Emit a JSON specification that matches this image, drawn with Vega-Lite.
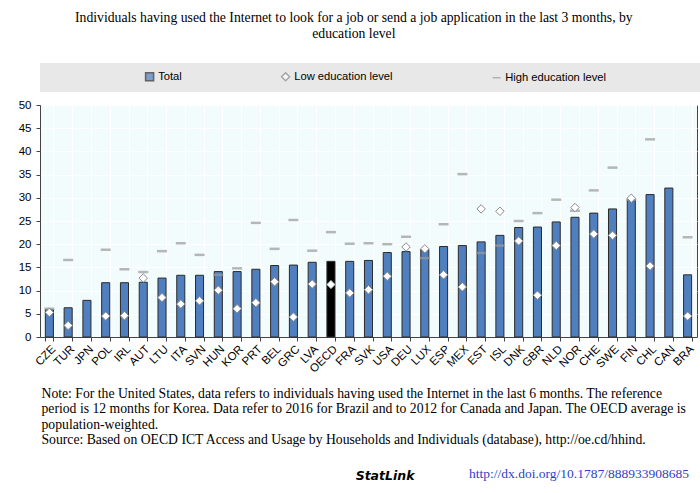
{
  "$schema": "https://vega.github.io/schema/vega-lite/v6.json",
  "padding": {"left": 17, "top": 11, "right": 0, "bottom": 0},
  "background": "white",
  "title": {
    "text": ["Individuals having used the Internet to look for a job or send a job application in the last 3 months, by", "education level"],
    "font": "Liberation Serif", "fontSize": 13.7, "fontWeight": "normal", "color": "#000000",
    "lineHeight": 16, "anchor": "middle", "offset": 22, "dx": -6
  },
  "data": {"values": [
    {"country": "CZE", "series": "Total", "value": 5.9}, {"country": "CZE", "series": "Low education level", "value": 5.3}, {"country": "CZE", "series": "High education level", "value": 6.1},
    {"country": "TUR", "series": "Total", "value": 6.3}, {"country": "TUR", "series": "Low education level", "value": 2.5}, {"country": "TUR", "series": "High education level", "value": 16.6},
    {"country": "JPN", "series": "Total", "value": 7.9},
    {"country": "POL", "series": "Total", "value": 11.7}, {"country": "POL", "series": "Low education level", "value": 4.5}, {"country": "POL", "series": "High education level", "value": 18.8},
    {"country": "IRL", "series": "Total", "value": 11.7}, {"country": "IRL", "series": "Low education level", "value": 4.6}, {"country": "IRL", "series": "High education level", "value": 14.6},
    {"country": "AUT", "series": "Total", "value": 11.8}, {"country": "AUT", "series": "Low education level", "value": 12.7}, {"country": "AUT", "series": "High education level", "value": 14.0},
    {"country": "LTU", "series": "Total", "value": 12.7}, {"country": "LTU", "series": "Low education level", "value": 8.5}, {"country": "LTU", "series": "High education level", "value": 18.5},
    {"country": "ITA", "series": "Total", "value": 13.3}, {"country": "ITA", "series": "Low education level", "value": 7.1}, {"country": "ITA", "series": "High education level", "value": 20.2},
    {"country": "SVN", "series": "Total", "value": 13.3}, {"country": "SVN", "series": "Low education level", "value": 7.8}, {"country": "SVN", "series": "High education level", "value": 17.7},
    {"country": "HUN", "series": "Total", "value": 14.1}, {"country": "HUN", "series": "Low education level", "value": 10.1}, {"country": "HUN", "series": "High education level", "value": 13.4},
    {"country": "KOR", "series": "Total", "value": 14.1}, {"country": "KOR", "series": "Low education level", "value": 6.1}, {"country": "KOR", "series": "High education level", "value": 14.8},
    {"country": "PRT", "series": "Total", "value": 14.6}, {"country": "PRT", "series": "Low education level", "value": 7.4}, {"country": "PRT", "series": "High education level", "value": 24.6},
    {"country": "BEL", "series": "Total", "value": 15.4}, {"country": "BEL", "series": "Low education level", "value": 11.9}, {"country": "BEL", "series": "High education level", "value": 19.0},
    {"country": "GRC", "series": "Total", "value": 15.5}, {"country": "GRC", "series": "Low education level", "value": 4.3}, {"country": "GRC", "series": "High education level", "value": 25.2},
    {"country": "LVA", "series": "Total", "value": 16.1}, {"country": "LVA", "series": "Low education level", "value": 11.4}, {"country": "LVA", "series": "High education level", "value": 18.6},
    {"country": "OECD", "series": "Total", "value": 16.3}, {"country": "OECD", "series": "Low education level", "value": 11.3}, {"country": "OECD", "series": "High education level", "value": 22.6},
    {"country": "FRA", "series": "Total", "value": 16.3}, {"country": "FRA", "series": "Low education level", "value": 9.5}, {"country": "FRA", "series": "High education level", "value": 20.1},
    {"country": "SVK", "series": "Total", "value": 16.5}, {"country": "SVK", "series": "Low education level", "value": 10.2}, {"country": "SVK", "series": "High education level", "value": 20.2},
    {"country": "USA", "series": "Total", "value": 18.2}, {"country": "USA", "series": "Low education level", "value": 13.1}, {"country": "USA", "series": "High education level", "value": 20.0},
    {"country": "DEU", "series": "Total", "value": 18.4}, {"country": "DEU", "series": "Low education level", "value": 19.4}, {"country": "DEU", "series": "High education level", "value": 21.6},
    {"country": "LUX", "series": "Total", "value": 18.9}, {"country": "LUX", "series": "Low education level", "value": 19.0}, {"country": "LUX", "series": "High education level", "value": 17.0},
    {"country": "ESP", "series": "Total", "value": 19.5}, {"country": "ESP", "series": "Low education level", "value": 13.4}, {"country": "ESP", "series": "High education level", "value": 24.3},
    {"country": "MEX", "series": "Total", "value": 19.7}, {"country": "MEX", "series": "Low education level", "value": 10.8}, {"country": "MEX", "series": "High education level", "value": 35.1},
    {"country": "EST", "series": "Total", "value": 20.5}, {"country": "EST", "series": "Low education level", "value": 27.6}, {"country": "EST", "series": "High education level", "value": 18.1},
    {"country": "ISL", "series": "Total", "value": 21.9}, {"country": "ISL", "series": "Low education level", "value": 27.1}, {"country": "ISL", "series": "High education level", "value": 19.7},
    {"country": "DNK", "series": "Total", "value": 23.6}, {"country": "DNK", "series": "Low education level", "value": 20.7}, {"country": "DNK", "series": "High education level", "value": 25.0},
    {"country": "GBR", "series": "Total", "value": 23.7}, {"country": "GBR", "series": "Low education level", "value": 9.0}, {"country": "GBR", "series": "High education level", "value": 26.7},
    {"country": "NLD", "series": "Total", "value": 24.8}, {"country": "NLD", "series": "Low education level", "value": 19.7}, {"country": "NLD", "series": "High education level", "value": 29.6},
    {"country": "NOR", "series": "Total", "value": 25.8}, {"country": "NOR", "series": "Low education level", "value": 27.9}, {"country": "NOR", "series": "High education level", "value": 27.2},
    {"country": "CHE", "series": "Total", "value": 26.7}, {"country": "CHE", "series": "Low education level", "value": 22.2}, {"country": "CHE", "series": "High education level", "value": 31.6},
    {"country": "SWE", "series": "Total", "value": 27.6}, {"country": "SWE", "series": "Low education level", "value": 21.9}, {"country": "SWE", "series": "High education level", "value": 36.5},
    {"country": "FIN", "series": "Total", "value": 29.6}, {"country": "FIN", "series": "Low education level", "value": 29.9}, {"country": "FIN", "series": "High education level", "value": 29.6},
    {"country": "CHL", "series": "Total", "value": 30.7}, {"country": "CHL", "series": "Low education level", "value": 15.3}, {"country": "CHL", "series": "High education level", "value": 42.6},
    {"country": "CAN", "series": "Total", "value": 32.1},
    {"country": "BRA", "series": "Total", "value": 13.4}, {"country": "BRA", "series": "Low education level", "value": 4.5}, {"country": "BRA", "series": "High education level", "value": 21.5}
  ]},
  "vconcat": [
    {
      "title": {"text": "StatLink", "orient": "bottom", "anchor": "end", "font": "DejaVu Sans", "fontSize": 12.5, "fontStyle": "italic", "fontWeight": "bold", "color": "#000000", "offset": 0, "dx": -283, "dy": -11},
      "vconcat": [
        {
          "width": 657,
          "height": 232,
          "title": {"text": "http://dx.doi.org/10.1787/888933908685", "orient": "bottom", "anchor": "end", "font": "Liberation Serif", "fontSize": 13.5, "fontWeight": "normal", "color": "#2f3fc4", "offset": 21, "dx": -8},
          "encoding": {
            "x": {
              "field": "country", "type": "nominal",
              "scale": {"domain": ["CZE","TUR","JPN","POL","IRL","AUT","LTU","ITA","SVN","HUN","KOR","PRT","BEL","GRC","LVA","OECD","FRA","SVK","USA","DEU","LUX","ESP","MEX","EST","ISL","DNK","GBR","NLD","NOR","CHE","SWE","FIN","CHL","CAN","BRA"], "paddingInner": 0.57, "paddingOuter": 0.285},
              "axis": {
                "title": [
                  "Note: For the United States, data refers to individuals having used the Internet in the last 6 months. The reference",
                  "period is 12 months for Korea. Data refer to 2016 for Brazil and to 2012 for Canada and Japan. The OECD average is",
                  "population-weighted.",
                  "Source: Based on OECD ICT Access and Usage by Households and Individuals (database), http://oe.cd/hhind."
                ],
                "titleAnchor": "start", "titleAlign": "left", "titleFont": "Liberation Serif", "titleFontSize": 13.7,
                "titleFontWeight": "normal", "titleColor": "#000000", "titleLineHeight": 15.3, "titlePadding": 12, "titleX": 1,
                "labelAngle": -45, "labelFont": "Liberation Sans", "labelFontSize": 11.5, "labelColor": "#000000", "labelPadding": 2,
                "tickBand": "extent", "tickSize": 4, "tickColor": "#444444", "domainColor": "#444444",
                "grid": true, "gridColor": "#ffffff", "gridWidth": 1
              }
            },
            "y": {
              "field": "value", "type": "quantitative",
              "scale": {"domain": [0, 50], "nice": false},
              "axis": {
                "title": null, "values": [0,5,10,15,20,25,30,35,40,45,50],
                "labelFont": "Liberation Sans", "labelFontSize": 11.5, "labelColor": "#000000", "labelPadding": 5,
                "tickSize": 4, "tickColor": "#444444", "domainColor": "#444444", "gridColor": "#ffffff", "gridWidth": 1
              }
            }
          },
          "layer": [
            {
              "transform": [{"filter": "datum.series === 'Total'"}],
              "mark": {"type": "bar", "strokeWidth": 1},
              "encoding": {
                "fill": {
                  "condition": {"test": "datum.country === 'OECD'", "value": "#000000"},
                  "field": "series", "type": "nominal", "title": "\u00a0",
                  "scale": {"domain": ["Total", "Low education level", "High education level"], "range": ["#4f7fbf", "#ffffff", "#9a9a9a"]},
                  "legend": {"labelLimit": 400, "labelExpr": "datum.label === 'High education level' ? datum.label + '\u2800\u2800\u2800\u2800\u2800\u2800\u2800\u2800\u2800\u2800\u2800' : datum.label"}
                },
                "stroke": {
                  "field": "series", "type": "nominal", "title": "\u00a0",
                  "scale": {"domain": ["Total", "Low education level", "High education level"], "range": ["#2a2a2a", "#8a8a8a", "#9a9a9a"]},
                  "legend": {"labelLimit": 400, "labelExpr": "datum.label === 'High education level' ? datum.label + '\u2800\u2800\u2800\u2800\u2800\u2800\u2800\u2800\u2800\u2800\u2800' : datum.label"}
                }
              }
            },
            {
              "transform": [{"filter": "datum.series === 'High education level'"}],
              "mark": {"type": "tick", "thickness": 2.5, "size": 10},
              "encoding": {
                "fill": {"field": "series", "type": "nominal", "title": "\u00a0",
                  "legend": {"labelLimit": 400, "labelExpr": "datum.label === 'High education level' ? datum.label + '\u2800\u2800\u2800\u2800\u2800\u2800\u2800\u2800\u2800\u2800\u2800' : datum.label"}}
              }
            },
            {
              "transform": [{"filter": "datum.series === 'Low education level'"}],
              "mark": {"type": "point", "filled": true, "size": 72, "strokeWidth": 1, "opacity": 1},
              "encoding": {
                "fill": {"field": "series", "type": "nominal", "title": "\u00a0",
                  "legend": {"labelLimit": 400, "labelExpr": "datum.label === 'High education level' ? datum.label + '\u2800\u2800\u2800\u2800\u2800\u2800\u2800\u2800\u2800\u2800\u2800' : datum.label"}},
                "stroke": {"field": "series", "type": "nominal", "title": "\u00a0",
                  "legend": {"labelLimit": 400, "labelExpr": "datum.label === 'High education level' ? datum.label + '\u2800\u2800\u2800\u2800\u2800\u2800\u2800\u2800\u2800\u2800\u2800' : datum.label"}},
                "shape": {
                  "field": "series", "type": "nominal", "title": "\u00a0",
                  "scale": {"domain": ["Total", "Low education level", "High education level"], "range": ["square", "diamond", "stroke"]},
                  "legend": {"labelLimit": 400, "labelExpr": "datum.label === 'High education level' ? datum.label + '\u2800\u2800\u2800\u2800\u2800\u2800\u2800\u2800\u2800\u2800\u2800' : datum.label"}
                }
              }
            }
          ]
        }
      ]
    }
  ],
  "config": {
    "view": {"fill": "#f2fcfc", "stroke": "#444444", "strokeWidth": 1},
    "legend": {
      "orient": "top", "direction": "horizontal", "offset": 6,
      "fillColor": "#e8e8e8", "padding": 8, "columnPadding": 96,
      "titleOrient": "left", "titlePadding": 96, "titleFontSize": 11,
      "labelFont": "Liberation Sans", "labelFontSize": 11.2, "labelColor": "#000000", "labelOffset": 3,
      "symbolSize": 64, "symbolStrokeWidth": 1.5
    }
  }
}
